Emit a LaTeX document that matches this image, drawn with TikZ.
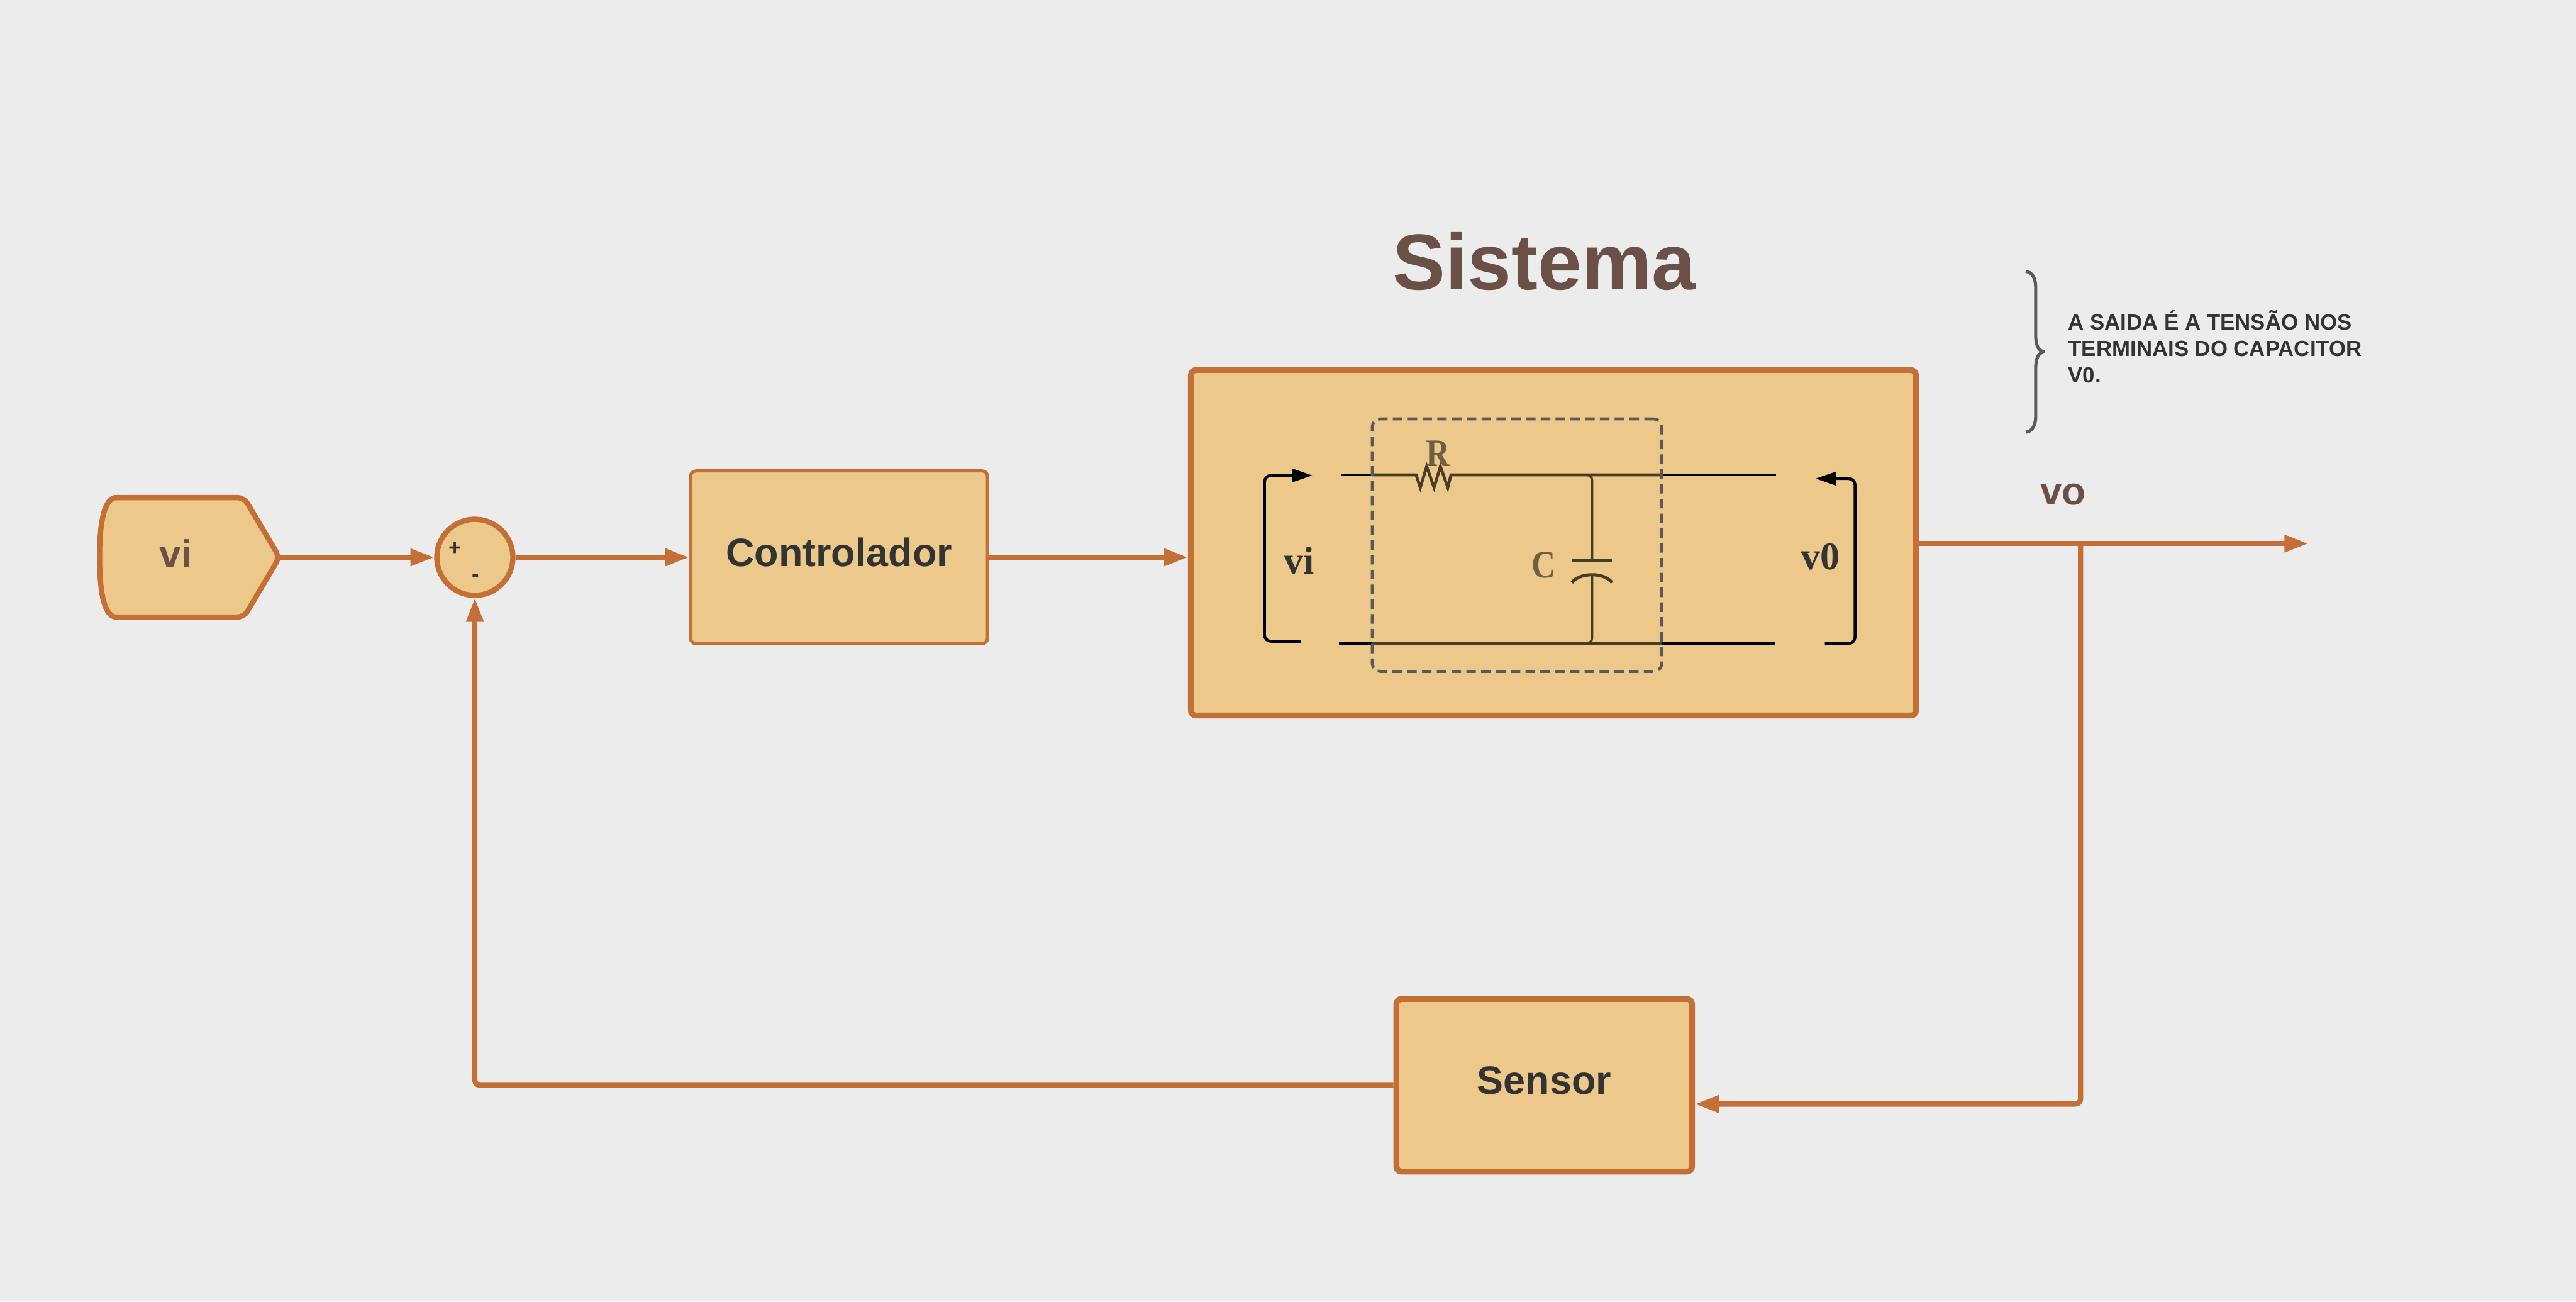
\documentclass[tikz,border=0pt]{standalone}
\usepackage{fontspec}
\setmainfont{Liberation Sans}
\newfontfamily\circuitfont{Liberation Serif}
\usetikzlibrary{arrows.meta}
\definecolor{paper}{HTML}{ECECEC}
\definecolor{blockfill}{HTML}{ECC88A}
\definecolor{blockline}{HTML}{C46F35}
\definecolor{labelbrown}{HTML}{6B5048}
\definecolor{inktext}{HTML}{333333}
\definecolor{dashgray}{HTML}{595959}
\definecolor{wirebrown}{HTML}{4A3C24}
\definecolor{partbrown}{HTML}{6F5F40}

\begin{document}
\begin{tikzpicture}[
  every node/.style={inner sep=0pt},
  block/.style={draw=blockline,fill=blockfill,line width=.1cm,rounded corners=.1cm,
    font=\fontsize{21.3}{25}\selectfont\bfseries,text=inktext,text depth=.2cm},
  flow/.style={-{Triangle[length=.45cm,width=.31cm]},draw=blockline,line width=.1cm,rounded corners=.1cm},
  bracket/.style={-{Triangle[length=.39cm,width=.25cm]},line width=.055cm,rounded corners=.12cm},
  wire/.style={line width=.055cm},
  inwire/.style={wire,draw=wirebrown},
  partline/.style={draw=wirebrown,line width=.045cm,rounded corners=.1cm},
  circuittext/.style={font=\circuitfont\fontsize{21}{25}\selectfont\bfseries,text=inktext},
  parttext/.style={font=\circuitfont\fontsize{21}{25}\selectfont\bfseries,text=partbrown},
  brown/.style={font=\fontsize{21}{25}\selectfont\bfseries,text=labelbrown}]
  \useasboundingbox (0,0) rectangle (48.77,24.64);
  \fill[paper] (0,0) rectangle (48.77,24.64);
  \draw[blockline,fill=blockfill,line width=.1cm]
    (1.885,14.09) .. controls (1.885,14.85) and (2.0,15.22) .. (2.2,15.22)
    [rounded corners=.12cm] -- (4.62,15.22) -- (5.29,14.09) -- (4.62,12.96)
    [sharp corners] -- (2.2,12.96) .. controls (2.0,12.96) and (1.885,13.33) .. cycle;
  \coordinate (vitip) at (5.29,14.09);
  \node[brown] (vilabel) at (3.33,14.16) {vi};
  \node[block,circle,minimum size=1.44cm] (soma) at (8.99,14.09) {};
  \node[font=\fontsize{11.7}{14}\selectfont\bfseries,text=inktext] (mais) at (8.62,14.25) {+};
  \node[font=\fontsize{11.7}{14}\selectfont\bfseries,text=inktext] (menos) at (9,13.7) {-};
  \node[block,minimum width=5.62cm,minimum height=3.27cm,line width=.06cm] (ctrl) at (15.885,14.09) {Controlador};
  \node[block,minimum width=13.73cm,minimum height=6.54cm,line width=.11cm] (sistema) at (29.41,14.365) {};
  \node[block,minimum width=5.6cm,minimum height=3.27cm,line width=.11cm] (sensor) at (29.235,4.095) {Sensor};
  \node[font=\fontsize{42.6}{50}\selectfont\bfseries,text=labelbrown] (titulo) at (29.24,19.69) {Sistema};
  \node[brown] (volabel) at (39.06,15.28) {vo};
  \node[anchor=west,align=left,font=\fontsize{11.8}{14.2}\selectfont\bfseries,text=inktext] (nota) at (39.15,18.08)
    {A SAIDA É A TENSÃO NOS\\TERMINAIS DO CAPACITOR\\V0.};
  \coordinate (saida) at (43.7,14.35);
  \coordinate (ramo) at (39.39,14.35);
  \draw[flow] (vitip) -- (soma);
  \draw[flow] (soma) -- (ctrl);
  \draw[flow] (ctrl) -- (ctrl.east -| sistema.west);
  \draw[flow] (sistema.east |- saida) -- (saida);
  \draw[flow] (ramo) |- ([yshift=-.355cm]sensor.east);
  \draw[flow] (sensor) -| (soma);
  \draw[draw=dashgray,line width=.06cm,line join=bevel]
    (38.35,19.5) .. controls (38.45,19.5) and (38.54,19.4) .. (38.54,19.2) -- (38.54,18.3)
    .. controls (38.54,18.12) and (38.58,18.0) .. (38.7,17.98)
    .. controls (38.58,17.96) and (38.54,17.84) .. (38.54,17.66) -- (38.54,16.76)
    .. controls (38.54,16.56) and (38.45,16.46) .. (38.35,16.46);
  % circuito
  \draw[wire] (25.39,15.65) -- (25.98,15.65);
  \draw[inwire] (25.98,15.65) -- (26.81,15.65) -- (26.89,15.41) -- (27.01,15.81) -- (27.15,15.41) -- (27.27,15.81) -- (27.41,15.41) -- (27.47,15.65) -- (31.46,15.65);
  \draw[wire] (31.46,15.65) -- (33.62,15.65);
  \draw[wire] (25.35,12.46) -- (25.98,12.46);
  \draw[inwire] (25.98,12.46) -- (31.46,12.46);
  \draw[wire] (31.46,12.46) -- (33.61,12.46);
  \draw[partline] (29.7,15.65) -- (30.14,15.65) -- (30.14,14.04);
  \draw[partline] (30.14,13.76) -- (30.14,12.46) -- (29.7,12.46);
  \draw[draw=wirebrown,line width=.06cm] (29.76,14.04) -- (30.52,14.04);
  \draw[draw=wirebrown,line width=.06cm] (29.76,13.61) .. controls (29.9,13.81) and (30.38,13.81) .. (30.52,13.61);
  \node[parttext] (resistor) at (27.22,16.05) {\scalebox{.85}[1]{R}};
  \node[parttext] (capacitor) at (29.22,13.94) {\scalebox{.85}[1]{C}};
  \node[circuittext] (vientra) at (24.6,14.03) {vi};
  \node[circuittext] (vsai) at (34.46,14.1) {v0};
  \coordinate (vibase) at (24.62,12.5);
  \coordinate (vitopo) at (24.85,15.64);
  \coordinate (vsbase) at (34.55,12.46);
  \coordinate (vstopo) at (34.37,15.58);
  \draw[bracket] (vibase) -- (23.94,12.5) -- (23.94,15.64) -- (vitopo);
  \draw[bracket] (vsbase) -- (35.12,12.46) -- (35.12,15.58) -- (vstopo);
  \node[draw=dashgray,line width=.055cm,rounded corners=.15cm,dash pattern=on .18cm off .1cm,
    minimum width=5.48cm,minimum height=4.78cm] (planta) at (28.72,14.32) {};
\end{tikzpicture}
\end{document}
